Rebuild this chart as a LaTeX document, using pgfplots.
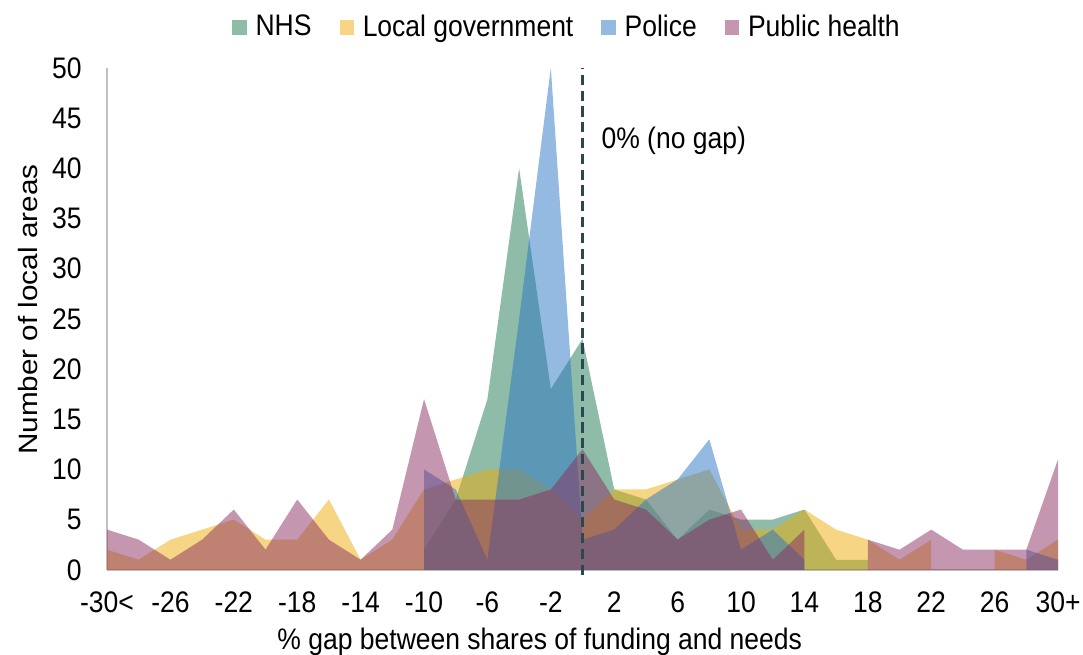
\documentclass[border=0pt]{standalone}
\usepackage{fontspec}
\setmainfont{Liberation Sans}
\usepackage{pgfplots}
\pgfplotsset{compat=1.18}

\definecolor{nhs}{RGB}{31,121,81}
\definecolor{lg}{RGB}{237,172,10}
\definecolor{pol}{RGB}{41,117,197}
\definecolor{ph}{RGB}{137,45,95}
\definecolor{gapline}{RGB}{42,72,77}
\definecolor{axgray}{RGB}{191,191,191}

\begin{document}
\begin{tikzpicture}[font=\fontsize{10.4pt}{12.5pt}\selectfont]
\path[use as bounding box] (0,0) rectangle (425pt,257pt);
\begin{axis}[
  at={(42pt,33.4pt)}, anchor=south west,
  scale only axis, width=373.2pt, height=197pt,
  xmin=-30, xmax=30, ymin=0, ymax=50,
  clip=false,
  axis x line=bottom, axis y line=left,
  axis line style={-, axgray, line width=0.8pt},
  xtick={-30,-26,...,30},
  xticklabels={-30<,-26,-22,-18,-14,-10,-6,-2,2,6,10,14,18,22,26,30+},
  ytick={0,5,...,50},
  major tick length=0pt,
  /pgf/number format/assume math mode=true,
  xticklabel style={anchor=base, inner sep=0pt, yshift=-16.7pt, yscale=1.12},
  yticklabel style={anchor=east, inner sep=0pt, xshift=-9.8pt, yscale=1.12},
  xlabel={\% gap between shares of funding and needs},
  ylabel={Number of local areas},
  xlabel style={at={(axis description cs:0.455,-0.1436)}, anchor=center, yscale=1.12},
  ylabel style={at={(axis description cs:-0.083,0.518)}, anchor=center, xscale=1.12},
  legend style={at={(0.4854,1.08)}, anchor=center, draw=none, fill=none,
    nodes={yscale=1.12},
    legend columns=4, /tikz/every even column/.append style={column sep=9pt}},
  legend image code/.code={\fill[#1] (0pt,-2.8pt) rectangle (5.6pt,2.8pt);
    \path (7.1pt,0pt);},
]
% NHS
\addplot[fill=nhs, fill opacity=0.5, draw=none] coordinates {
  (-10,0) (-10,2) (-8,7) (-6,17) (-4,40) (-2,18) (0,23) (2,8) (4,7) (6,3)
  (8,6) (10,5) (12,5) (14,6) (16,1) (18,1) (18,0)
} \closedcycle;
\addlegendentry{NHS}
% Local government
\addplot[fill=lg, fill opacity=0.5, draw=none] coordinates {
  (-30,0) (-30,2) (-28,1) (-26,3) (-24,4) (-22,5) (-20,3) (-18,3) (-16,7) (-14,1)
  (-12,3) (-10,8) (-8,9) (-6,10) (-4,10) (-2,8) (0,5) (2,8) (4,8) (6,9)
  (8,10) (10,4) (12,4) (14,6) (16,4) (18,3) (20,1) (22,3) (22,0)
  (26,0) (26,2) (28,1) (30,3) (30,0)
} \closedcycle;
\addlegendentry{Local government}
% Police
\addplot[fill=pol, fill opacity=0.5, draw=none] coordinates {
  (-10,0) (-10,10) (-8,8) (-6,1) (-4,25) (-2,50) (0,3) (2,4) (4,7) (6,9)
  (8,13) (10,2) (12,4) (14,1) (14,0)
  (28,0) (28,2) (30,1) (30,0)
} \closedcycle;
\addlegendentry{Police}
% Public health
\addplot[fill=ph, fill opacity=0.5, draw=none] coordinates {
  (-30,0) (-30,4) (-28,3) (-26,1) (-24,3) (-22,6) (-20,2) (-18,7) (-16,3) (-14,1)
  (-12,4) (-10,17) (-8,7) (-6,7) (-4,7) (-2,8) (0,12) (2,7) (4,6) (6,3)
  (8,5) (10,6) (12,1) (14,4) (14,0)
  (18,0) (18,3) (20,2) (22,4) (24,2) (26,2) (28,2) (30,11) (30,0)
} \closedcycle;
\addlegendentry{Public health}
% zero-gap marker
\addplot[gapline, line width=1.45pt, dash pattern=on 4pt off 2.2pt, forget plot]
  coordinates {(0,-0.5) (0,50)};
\node[anchor=west, inner sep=0pt, yscale=1.12] at (axis cs:1.17,42.7) {0\% (no gap)};
\end{axis}
\end{tikzpicture}
\end{document}
